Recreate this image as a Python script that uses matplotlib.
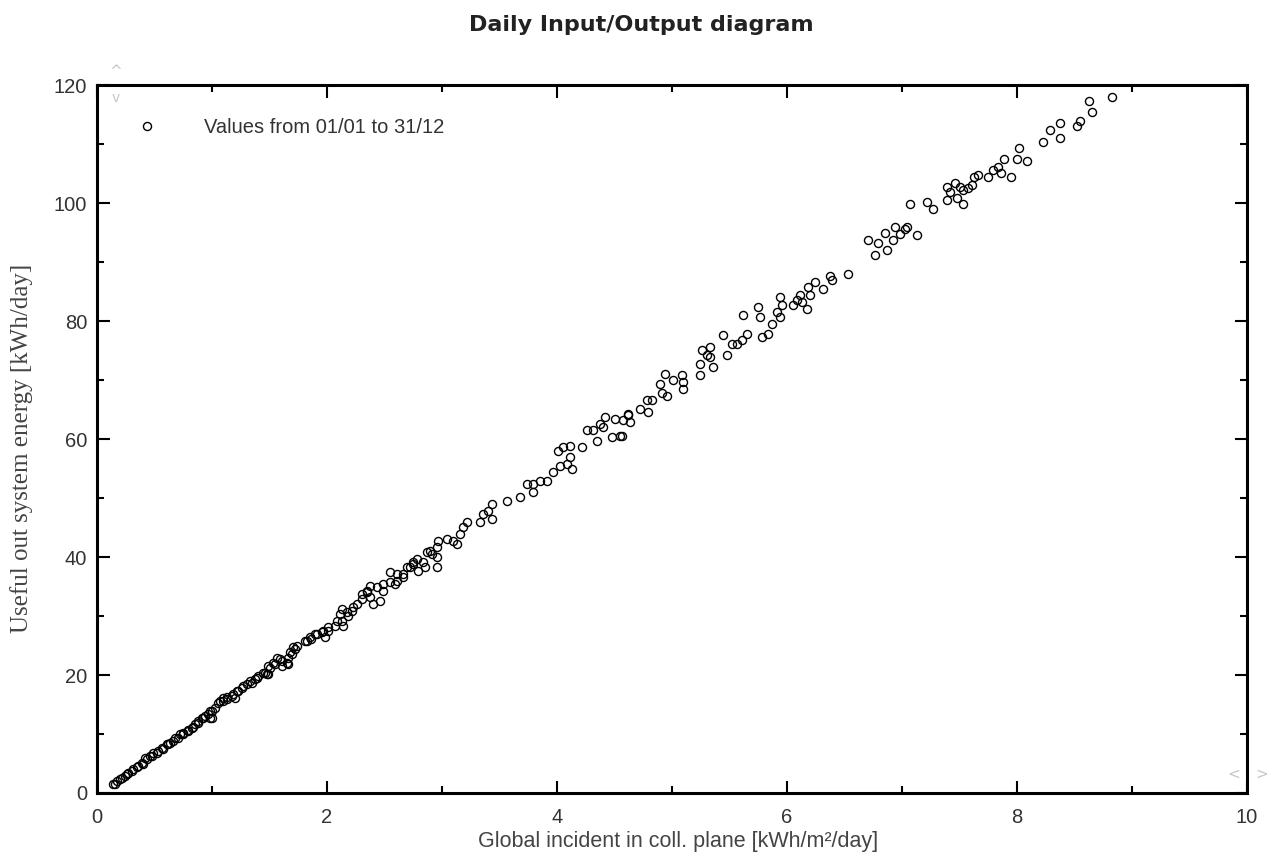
import numpy as np
import matplotlib
matplotlib.use("Agg")
import matplotlib.pyplot as plt
from matplotlib.ticker import MultipleLocator

# daily values: global incident [kWh/m2/day] vs useful energy [kWh/day]
x_low = [0.142, 0.171, 0.215, 0.258, 0.302, 0.345, 0.389, 0.432, 0.476, 0.519,
         0.563, 0.620, 0.663, 0.707, 0.750, 0.794, 0.837, 0.881, 0.924, 0.968,
         0.983, 0.997, 1.055, 1.098, 1.128, 1.185, 1.215, 1.272, 1.330, 1.389,
         1.446, 1.476, 1.490, 1.533, 1.563, 1.606, 1.650, 1.678, 1.707, 1.823,
         1.852, 1.910, 1.968, 2.011, 2.084, 2.113, 2.128, 2.171, 2.229, 2.258,
         2.302, 2.345, 2.374, 2.403, 2.461, 2.490, 2.548, 2.606, 2.663, 2.722,
         2.750, 2.794, 2.837, 2.896, 2.954, 2.954]
y_low = [1.48, 2.04, 2.60, 3.17, 3.74, 4.41, 5.14, 5.72, 6.28, 6.84,
         7.69, 8.27, 8.83, 9.39, 9.97, 10.65, 11.21, 11.94, 12.68, 13.36,
         12.78, 13.92, 15.33, 15.62, 16.30, 16.76, 17.32, 18.17, 19.02, 19.58,
         20.42, 20.15, 21.56, 22.12, 22.97, 22.41, 22.12, 23.82, 24.67, 25.81,
         26.37, 26.94, 27.50, 28.06, 29.20, 30.34, 31.19, 30.61, 31.46, 32.04,
         32.89, 34.30, 33.16, 32.04, 32.60, 34.30, 35.70, 35.99, 36.55, 38.25,
         39.10, 37.69, 39.10, 41.09, 41.65, 38.25]

x_band = [0.157, 0.200, 0.243, 0.272, 0.316, 0.359, 0.403, 0.417, 0.461, 0.490,
          0.533, 0.577, 0.606, 0.635, 0.678, 0.722, 0.750, 0.794, 0.823, 0.852,
          0.881, 0.910, 0.939, 0.983, 0.997, 1.026, 1.070, 1.098, 1.128, 1.171,
          1.200, 1.229, 1.258, 1.302, 1.345, 1.374, 1.403, 1.461, 1.490, 1.504,
          1.548, 1.591, 1.606, 1.658, 1.664, 1.693, 1.722, 1.737, 1.809, 1.861,
          1.896, 1.954, 1.983, 2.011, 2.070, 2.128, 2.142, 2.186, 2.215]
y_band = [1.58, 2.32, 2.89, 3.45, 4.02, 4.58, 4.97, 6.00, 6.28, 6.84,
          7.13, 7.42, 8.27, 8.54, 9.39, 9.97, 10.24, 10.53, 11.09, 11.66,
          12.22, 12.78, 13.07, 13.92, 12.78, 14.48, 15.62, 16.18, 15.91, 16.47,
          16.18, 17.32, 17.78, 18.46, 18.73, 19.30, 19.86, 20.42, 20.15, 21.27,
          21.85, 22.70, 21.56, 21.85, 22.97, 23.55, 24.40, 24.96, 25.81, 26.09,
          26.94, 27.22, 26.37, 27.50, 28.35, 29.20, 28.35, 30.05, 30.90]

x_mid = [2.301, 2.345, 2.374, 2.432, 2.490, 2.548, 2.591, 2.606, 2.663, 2.693,
         2.750, 2.780, 2.852, 2.867, 2.910, 2.954, 2.968, 3.041, 3.098, 3.128,
         3.157, 3.185, 3.215, 3.330, 3.359, 3.403, 3.432, 3.432, 3.563, 3.678,
         3.737, 3.794, 3.794, 3.852, 3.910, 3.968, 4.011, 4.026, 4.055, 4.084,
         4.113, 4.113, 4.128, 4.215, 4.258, 4.316, 4.345, 4.374, 4.402, 4.417,
         4.476, 4.504, 4.548, 4.563, 4.577, 4.620, 4.620, 4.635, 4.722, 4.780,
         4.794, 4.823, 4.896, 4.910, 4.939, 4.954]
y_mid = [33.74, 34.01, 35.14, 34.86, 35.43, 37.40, 35.43, 37.13, 37.13, 38.25,
         38.83, 39.68, 38.25, 40.80, 40.53, 39.95, 42.78, 43.07, 42.78, 42.22,
         43.92, 45.04, 45.89, 45.89, 47.32, 47.88, 49.02, 46.47, 49.58, 50.14,
         52.41, 52.41, 50.98, 52.97, 52.97, 54.38, 58.06, 55.52, 58.62, 55.81,
         58.91, 56.93, 54.96, 58.62, 61.46, 61.46, 59.76, 62.60, 62.02, 63.72,
         60.32, 63.44, 60.61, 60.61, 63.16, 64.01, 64.29, 62.87, 65.14, 66.55,
         64.57, 66.67, 69.39, 67.79, 71.09, 67.23]

x_high = [5.011, 5.084, 5.098, 5.098, 5.243, 5.243, 5.258, 5.302, 5.330, 5.330,
          5.359, 5.446, 5.476, 5.519, 5.563, 5.606, 5.620, 5.650, 5.750, 5.765,
          5.780, 5.837, 5.867, 5.910, 5.939, 5.939, 5.954, 6.055, 6.084, 6.113,
          6.128, 6.171, 6.185, 6.200, 6.243, 6.316, 6.374, 6.389, 6.533, 6.707,
          6.765, 6.794, 6.852, 6.867, 6.924, 6.939, 6.983, 7.026, 7.041, 7.070,
          7.128, 7.215, 7.272, 7.389, 7.389]
y_high = [69.95, 70.80, 69.66, 68.54, 72.78, 70.80, 75.04, 74.19, 75.60, 73.90,
          72.21, 77.59, 74.19, 76.18, 76.18, 76.74, 80.98, 77.88, 82.39, 80.70,
          77.30, 77.88, 79.58, 81.54, 80.70, 84.09, 82.68, 82.68, 83.53, 84.38,
          83.24, 82.12, 85.79, 84.38, 86.64, 85.52, 87.66, 86.93, 87.95, 93.72,
          91.17, 93.26, 94.96, 92.02, 93.72, 95.98, 94.85, 95.70, 95.98, 99.83,
          94.57, 100.22, 99.10, 102.77, 100.51]

x_top = [7.417, 7.461, 7.476, 7.504, 7.533, 7.533, 7.577, 7.606, 7.626, 7.663,
         7.750, 7.794, 7.837, 7.858, 7.887, 7.948, 7.997, 8.020, 8.084, 8.229,
         8.287, 8.374, 8.374, 8.519, 8.548, 8.626, 8.650, 8.823]
y_top = [101.92, 103.34, 100.80, 102.77, 102.21, 99.83, 102.50, 103.06, 104.36, 104.75,
         104.36, 105.60, 106.06, 105.04, 107.47, 104.36, 107.47, 109.29, 107.18, 110.31,
         112.39, 113.53, 111.09, 113.12, 113.92, 117.32, 115.50, 118.05]

x_vals = np.array(x_low + x_band + x_mid + x_high + x_top)
y_vals = np.array(y_low + y_band + y_mid + y_high + y_top)

fig = plt.figure(figsize=(12.82, 8.61), dpi=100)
ax = fig.add_axes([0.0757, 0.079, 0.897, 0.822])

ax.plot(x_vals, y_vals, linestyle='none', marker='o', markersize=5.8,
        markerfacecolor='none', markeredgecolor='black', markeredgewidth=1.0,
        label='Values from 01/01 to 31/12')

ax.set_xlim(0, 10)
ax.set_ylim(0, 120)
ax.xaxis.set_major_locator(MultipleLocator(2))
ax.xaxis.set_minor_locator(MultipleLocator(1))
ax.yaxis.set_major_locator(MultipleLocator(20))
ax.yaxis.set_minor_locator(MultipleLocator(10))
ax.tick_params(which='both', direction='in', top=True, right=True, width=1.5,
               colors='black', labelcolor='#333333', labelsize=14.5)
ax.tick_params(axis='x', which='major', pad=11)
ax.tick_params(axis='y', which='major', pad=7)
ax.tick_params(which='major', length=9)
ax.tick_params(which='minor', length=5)
for sp in ax.spines.values():
    sp.set_linewidth(2.2)
for lbl in ax.get_xticklabels() + ax.get_yticklabels():
    lbl.set_family('Liberation Sans')

ax.set_xlabel('Global incident in coll. plane [kWh/m²/day]', family='Liberation Sans',
              fontsize=15.5, color='#444444')
ax.xaxis.set_label_coords(0.505, -0.054)
ax.set_ylabel('Useful out system energy [kWh/day]', family='Liberation Serif',
              fontsize=18, color='#444444')
ax.yaxis.set_label_coords(-0.056, 0.487)
fig.text(0.5, 0.971, 'Daily Input/Output diagram', ha='center', va='center',
         family='DejaVu Sans', fontweight='bold', fontsize=16, color='#222222')

leg = ax.legend(loc='upper left', bbox_to_anchor=(0.0104, 0.979), frameon=False,
                handletextpad=1.8, prop={'family': 'Liberation Sans', 'size': 14.5})
for t in leg.get_texts():
    t.set_color('#333333')

# faint scroll arrows of the original window
fig.text(0.090, 0.917, '^', ha='center', va='center', color='#c8c8c8', fontsize=11)
fig.text(0.090, 0.886, 'v', ha='center', va='center', color='#c8c8c8', fontsize=10)
fig.text(0.962, 0.101, '<', ha='center', va='center', color='#c8c8c8', fontsize=11)
fig.text(0.984, 0.101, '>', ha='center', va='center', color='#c8c8c8', fontsize=11)

fig.savefig('out.png', dpi=100)
